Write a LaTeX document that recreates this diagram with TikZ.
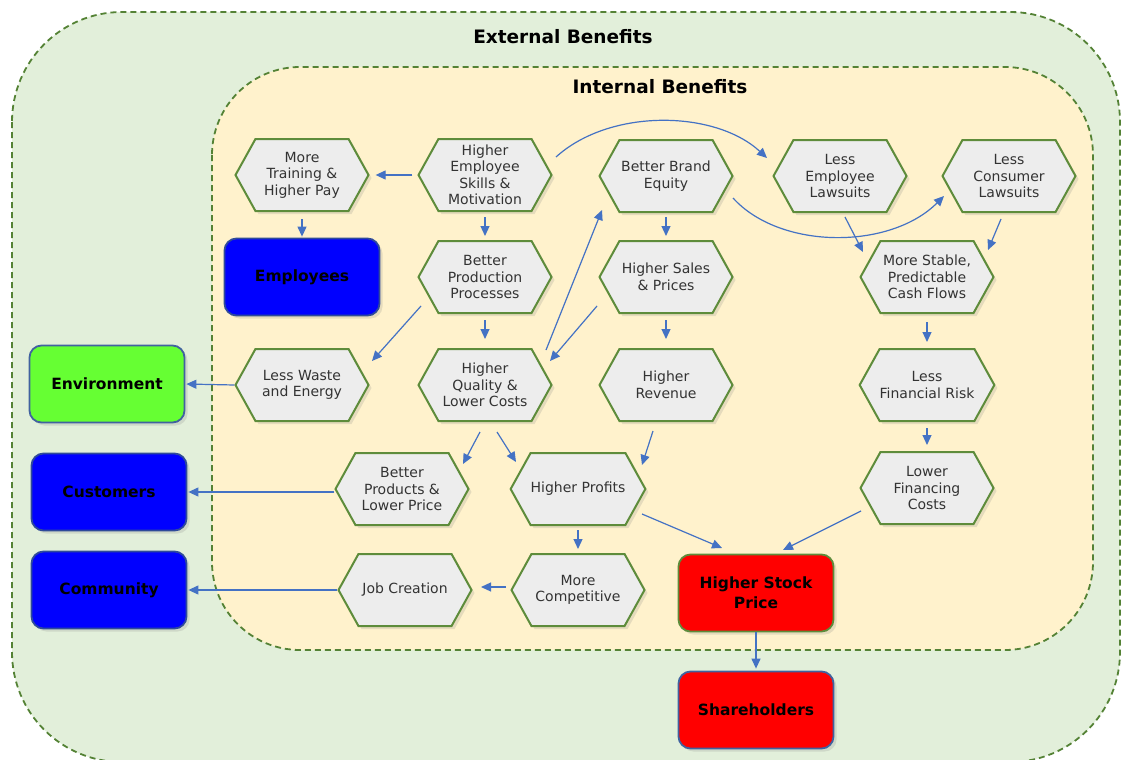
\documentclass[tikz,border=0pt]{standalone}
\usepackage{fontspec}
\setmainfont{DejaVu Sans}
\usetikzlibrary{shapes.symbols,arrows.meta,shadows,calc}
\definecolor{outerfill}{HTML}{E2EFDA}
\definecolor{innerfill}{HTML}{FFF2CC}
\definecolor{frame}{HTML}{548235}
\definecolor{hexfill}{HTML}{EDEDED}
\definecolor{hexline}{HTML}{5E8C3B}
\definecolor{flow}{HTML}{4472C4}
\definecolor{navy}{HTML}{2F4A9A}
\definecolor{steel}{HTML}{41629F}
\definecolor{boxblue}{HTML}{0000FF}
\definecolor{boxgreen}{HTML}{66FF33}
\definecolor{boxred}{HTML}{FF0000}
\definecolor{txt}{HTML}{333333}

\begin{document}
\begin{tikzpicture}[x=1pt,y=-1pt,
  container/.style={draw=frame, line width=1.8pt, dash pattern=on 6pt off 4pt},
  hexnode/.style={signal, signal to=east and west, signal pointer angle=122,
    draw=hexline, line width=2pt, fill=hexfill,
    minimum width=133pt, minimum height=72pt, inner sep=0pt,
    align=center, text=txt, font=\fontsize{14}{16.5}\selectfont,
    drop shadow={shadow xshift=3pt, shadow yshift=-3pt, opacity=0.2}},
  group/.style={rectangle, rounded corners=12pt, line width=1.8pt,
    minimum width=155pt, minimum height=77pt, inner sep=0pt,
    align=center, text=black, font=\bfseries\fontsize{15.5}{20}\selectfont,
    drop shadow={shadow xshift=3pt, shadow yshift=-3pt, opacity=0.2}},
  flowarrow/.style={draw=flow, line width=1.2pt, -{Triangle[length=10pt,width=9pt]}},
  title/.style={font=\bfseries\fontsize{18.5}{22}\selectfont, text=black}
]
\useasboundingbox (0,0) rectangle (1122,760);

% nested benefit areas
\draw[container, fill=outerfill, rounded corners=110pt] (12,12) rectangle (1120,762);
\draw[container, fill=innerfill, rounded corners=88pt] (212,67) rectangle (1093,650);
\node[title] (ext) at (563,37) {External Benefits};
\node[title] (int) at (660,87) {Internal Benefits};

% effects inside the firm
\node[hexnode] (mt)  at (302,175) {More\\Training \&\\Higher Pay};
\node[hexnode] (hes) at (485,175) {Higher\\Employee\\Skills \&\\Motivation};
\node[hexnode] (bbe) at (666,176) {Better Brand\\Equity};
\node[hexnode] (lel) at (840,176) {Less\\Employee\\Lawsuits};
\node[hexnode] (lcl) at (1009,176) {Less\\Consumer\\Lawsuits};
\node[hexnode] (bp)  at (485,277) {Better\\Production\\Processes};
\node[hexnode] (hsp) at (666,277) {Higher Sales\\\& Prices};
\node[hexnode] (msc) at (927,277) {More Stable,\\Predictable\\Cash Flows};
\node[hexnode] (lw)  at (302,385) {Less Waste\\and Energy};
\node[hexnode] (hq)  at (485,385) {Higher\\Quality \&\\Lower Costs};
\node[hexnode] (hr)  at (666,385) {Higher\\Revenue};
\node[hexnode] (lfr) at (927,385) {Less\\Financial Risk};
\node[hexnode] (bpl) at (402,489) {Better\\Products \&\\Lower Price};
\node[hexnode] (hp)  at (578,489) {Higher Profits};
\node[hexnode] (lfc) at (927,488) {Lower\\Financing\\Costs};
\node[hexnode] (jc)  at (405,590) {Job Creation};
\node[hexnode] (mc)  at (578,590) {More\\Competitive};

% stakeholder groups
\node[group, fill=boxblue, draw=navy] (emp) at (302,277) {Employees};
\node[group, fill=boxgreen, draw=steel] (env) at (107,384) {Environment};
\node[group, fill=boxblue, draw=navy] (cust) at (109,492) {Customers};
\node[group, fill=boxblue, draw=navy] (com) at (109,590) {Community};
\node[group, fill=boxred, draw=hexline] (hsk) at (756,593) {Higher Stock\\Price};
\node[group, fill=boxred, draw=steel] (sh) at (756,710) {Shareholders};

% cause and effect links
\draw[flowarrow, shorten <=5pt, shorten >=6pt] (hes.west) -- (mt.east);
\draw[flowarrow, shorten <=7pt, shorten >=1pt] (mt.south) -- (emp.north);
\draw[flowarrow, shorten <=5pt, shorten >=4pt] (hes.south) -- (bp.north);
\draw[flowarrow] ($(hes)+(71,-18)$) .. controls (610,108) and (715,110) .. ($(lel)+(-73,-18)$);
\draw[flowarrow] ($(bbe)+(67,22)$) .. controls (780,250) and (890,250) .. ($(lcl)+(-65,20)$);
\draw[flowarrow] ($(lel)+(5,41)$) -- ($(msc)+(-64,-25)$);
\draw[flowarrow] ($(lcl)+(-8,43)$) -- ($(msc)+(61,-27)$);
\draw[flowarrow, shorten <=4pt, shorten >=4pt] (bbe.south) -- (hsp.north);
\draw[flowarrow] ($(hq)+(61,-35)$) -- ($(bbe)+(-64,34)$);
\draw[flowarrow] ($(hsp)+(-69,29)$) -- ($(hq)+(65,-24)$);
\draw[flowarrow] ($(bp)+(-64,29)$) -- ($(lw)+(70,-24)$);
\draw[flowarrow, shorten <=6pt, shorten >=9pt] (bp.south) -- (hq.north);
\draw[flowarrow, shorten <=6pt, shorten >=9pt] (hsp.south) -- (hr.north);
\draw[flowarrow] ($(hq)+(-5,47)$) -- ($(bpl)+(61,-25)$);
\draw[flowarrow] ($(hq)+(12,47)$) -- ($(hp)+(-62,-27)$);
\draw[flowarrow] ($(hr)+(-13,46)$) -- ($(hp)+(64,-24)$);
\draw[flowarrow] ($(hp)+(64,25)$) -- ($(hsk)+(-34,-45)$);
\draw[flowarrow] ($(lfc)+(-66,23)$) -- ($(hsk)+(27,-43)$);
\draw[flowarrow, shorten <=4pt, shorten >=4pt] (hp.south) -- (mc.north);
\draw[flowarrow] ($(mc)+(-72,-3)$) -- ($(jc)+(76,-3)$);
\draw[flowarrow, shorten >=2pt] (hsk.south) -- (sh.north);
\draw[flowarrow, shorten <=8pt, shorten >=6pt] (msc.south) -- (lfr.north);
\draw[flowarrow, shorten <=6pt, shorten >=6pt] (lfr.south) -- (lfc.north);
\draw[flowarrow, shorten >=1pt] (lw.west) -- (env.east);
\draw[flowarrow, shorten >=1pt] ($(bpl.west)+(0,3)$) -- (cust.east |- {$(bpl.west)+(0,3)$});
\draw[flowarrow, shorten >=1pt] (jc.west) -- (com.east);
\end{tikzpicture}
\end{document}
